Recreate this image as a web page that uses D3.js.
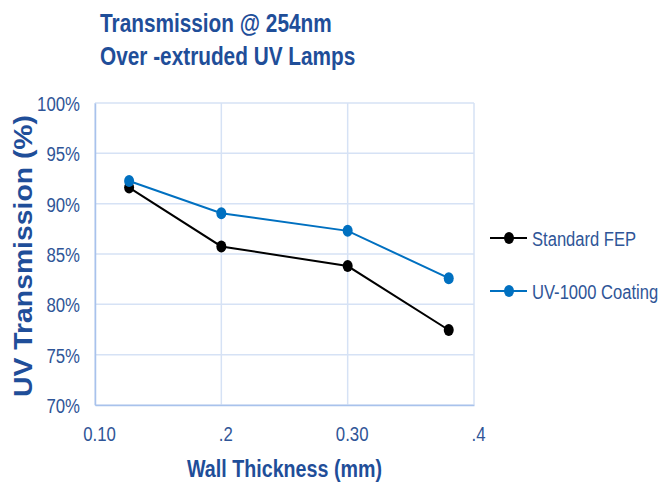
<!DOCTYPE html>
<html>
<head>
<meta charset="utf-8">
<script src="https://cdn.jsdelivr.net/npm/d3@7"></script>
<style>
  body { margin: 0; background: #fff; }
  text { font-family: "Liberation Sans", Arial, sans-serif; }
</style>
</head>
<body>
<div id="chart"></div>
<script>
// data
var thickness = [0.127, 0.2, 0.3, 0.38];
var standardFEP = [91.6, 85.75, 83.8, 77.45];
var uv1000 = [92.25, 89.05, 87.3, 82.6];
var seriesNames = ["Standard FEP", "UV-1000 Coating"];
var xTicks = [0.1, 0.2, 0.3, 0.4];
var xTickLabels = ["0.10", ".2", "0.30", ".4"];
var yTicks = [70, 75, 80, 85, 90, 95, 100];

var svgWidth = 662;
var svgHeight = 483;

var margin = { top: 103, right: 188, bottom: 78, left: 95 };
var chartWidth = svgWidth - margin.left - margin.right;
var chartHeight = svgHeight - margin.top - margin.bottom;

var textBlue = "#2f5597";
var titleBlue = "#1f4e99";

// excel-ish narrow text: squeeze horizontally around the anchor point
function condense(sel, k) {
    sel.each(function() {
        var t = d3.select(this);
        var x = +t.attr("x") || 0;
        var y = +t.attr("y") || 0;
        t.attr("x", 0).attr("y", 0)
            .attr("transform", `translate(${x}, ${y}) scale(${k}, 1)`);
    });
}

var svg = d3.select("#chart")
    .append("svg")
    .attr("width", svgWidth)
    .attr("height", svgHeight);

var chartGroup = svg.append("g")
    .attr("transform", `translate(${margin.left}, ${margin.top})`);

var xScale = d3.scaleLinear()
    .domain([0.1, 0.4])
    .range([0, chartWidth]);

var yScale = d3.scaleLinear()
    .domain([70, 100])
    .range([chartHeight, 0]);

// grid
chartGroup.append("g")
    .selectAll("line")
    .data(yTicks)
    .enter()
    .append("line")
    .attr("x1", 0)
    .attr("x2", chartWidth)
    .attr("y1", d => yScale(d))
    .attr("y2", d => yScale(d))
    .attr("stroke", "#d6e2f5")
    .attr("stroke-width", 1.5);

chartGroup.append("g")
    .selectAll("line")
    .data(xTicks)
    .enter()
    .append("line")
    .attr("x1", d => xScale(d))
    .attr("x2", d => xScale(d))
    .attr("y1", 0)
    .attr("y2", chartHeight)
    .attr("stroke", "#d6e2f5")
    .attr("stroke-width", 1.5);

// axes (left + bottom a bit darker)
var bottomAxis = d3.axisBottom(xScale)
    .tickValues(xTicks)
    .tickFormat((d, i) => xTickLabels[i])
    .tickSize(0)
    .tickPadding(21);

var leftAxis = d3.axisLeft(yScale)
    .tickValues(yTicks)
    .tickFormat(d => d + "%")
    .tickSize(0)
    .tickPadding(15);

var xAxisG = chartGroup.append("g")
    .attr("transform", `translate(0, ${chartHeight})`)
    .call(bottomAxis);

var yAxisG = chartGroup.append("g")
    .call(leftAxis);

[xAxisG, yAxisG].forEach(function(g) {
    g.select(".domain").attr("stroke", "#a8c2ec").attr("stroke-width", 1.5);
    g.selectAll("text")
        .attr("fill", textBlue)
        .style("font-size", "21px")
        .style("font-family", "Liberation Sans, Arial, sans-serif");
});
yAxisG.selectAll("text").attr("dy", "0.36em");
xAxisG.selectAll("text").attr("x", 4);
condense(xAxisG.selectAll("text"), 0.8);
condense(yAxisG.selectAll("text"), 0.8);

// lines and markers
var series = [
    { name: seriesNames[0], values: standardFEP, color: "#000000" },
    { name: seriesNames[1], values: uv1000, color: "#0070c0" }
];

var line = d3.line()
    .x((d, i) => xScale(thickness[i]))
    .y(d => yScale(d));

series.forEach(function(s) {
    chartGroup.append("path")
        .datum(s.values)
        .attr("fill", "none")
        .attr("stroke", s.color)
        .attr("stroke-width", 2)
        .attr("d", line);

    chartGroup.append("g")
        .selectAll("ellipse")
        .data(s.values)
        .enter()
        .append("ellipse")
        .attr("cx", (d, i) => xScale(thickness[i]))
        .attr("cy", d => yScale(d))
        .attr("rx", 5)
        .attr("ry", 6)
        .attr("fill", s.color);
});

// legend
var legend = svg.append("g")
    .attr("transform", "translate(490, 238)");

var legendItems = legend.selectAll("g")
    .data(series)
    .enter()
    .append("g")
    .attr("transform", (d, i) => `translate(0, ${i * 53})`);

legendItems.append("line")
    .attr("x1", 0)
    .attr("x2", 37)
    .attr("stroke", d => d.color)
    .attr("stroke-width", 2);

legendItems.append("ellipse")
    .attr("cx", 19)
    .attr("rx", 5)
    .attr("ry", 6)
    .attr("fill", d => d.color);

var legendText = legendItems.append("text")
    .attr("x", 42)
    .attr("dy", "0.36em")
    .attr("fill", textBlue)
    .style("font-size", "21px")
    .text(d => d.name);
condense(legendText, 0.79);

// titles
var t1 = svg.append("text")
    .attr("x", 100)
    .attr("y", 32)
    .attr("fill", titleBlue)
    .style("font-size", "26px")
    .style("font-weight", "bold")
    .text("Transmission @ 254nm");

var t2 = svg.append("text")
    .attr("x", 100)
    .attr("y", 65)
    .attr("fill", titleBlue)
    .style("font-size", "26px")
    .style("font-weight", "bold")
    .text("Over -extruded UV Lamps");
condense(t1, 0.8);
condense(t2, 0.8);

var xTitle = svg.append("text")
    .attr("x", margin.left + chartWidth / 2)
    .attr("y", 477)
    .attr("text-anchor", "middle")
    .attr("fill", titleBlue)
    .style("font-size", "24px")
    .style("font-weight", "bold")
    .text("Wall Thickness (mm)");
condense(xTitle, 0.82);

svg.append("text")
    .attr("transform", "translate(32, 256) rotate(-90)")
    .attr("text-anchor", "middle")
    .attr("fill", titleBlue)
    .style("font-size", "25px")
    .style("font-weight", "bold")
    .attr("textLength", 282)
    .attr("lengthAdjust", "spacingAndGlyphs")
    .text("UV Transmission (%)");
</script>
</body>
</html>
